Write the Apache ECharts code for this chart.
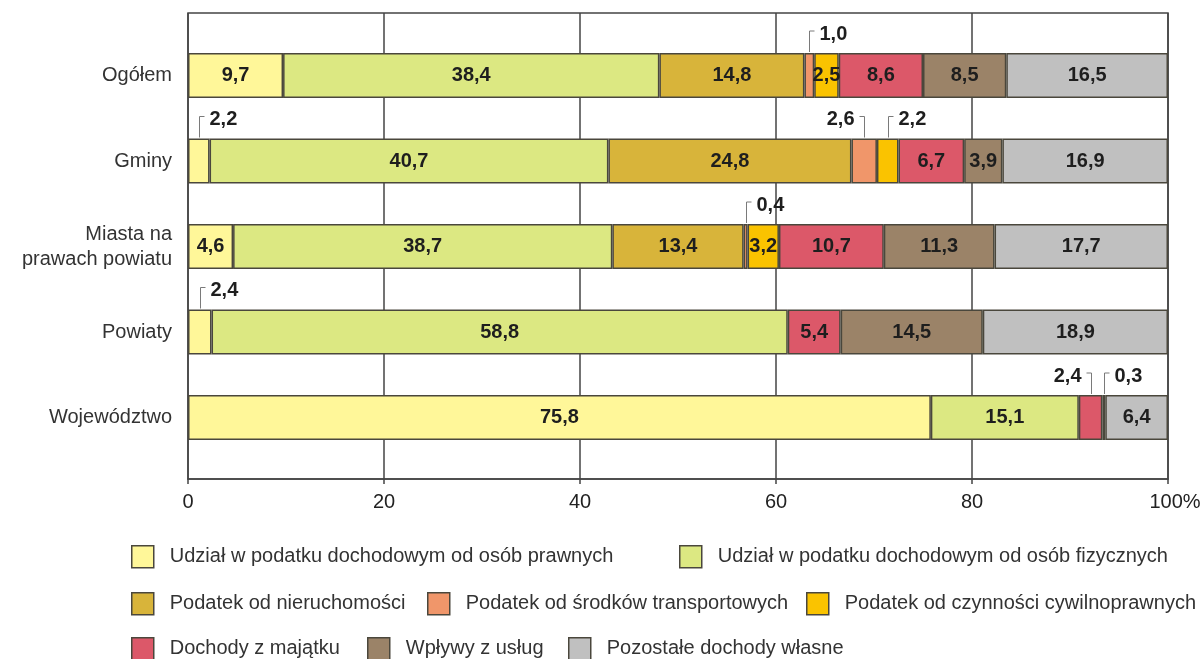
<!DOCTYPE html>
<html>
<head>
<meta charset="utf-8">
<script src="https://cdn.jsdelivr.net/npm/echarts@6/dist/echarts.min.js"></script>
<style>
  html, body { margin: 0; padding: 0; background: #ffffff; }
  #chart { width: 1204px; height: 659px; }
</style>
</head>
<body>
<div id="chart"></div>
<script>
// ---- Data ----
const categories = ['Ogółem', 'Gminy', 'Miasta na\nprawach powiatu', 'Powiaty', 'Województwo'];
const seriesNames = [
  'Udział w podatku dochodowym od osób prawnych',
  'Udział w podatku dochodowym od osób fizycznych',
  'Podatek od nieruchomości',
  'Podatek od środków transportowych',
  'Podatek od czynności cywilnoprawnych',
  'Dochody z majątku',
  'Wpływy z usług',
  'Pozostałe dochody własne'
];
const udzialPrawne          = [9.7, 2.2, 4.6, 2.4, 75.8];
const udzialFizyczne        = [38.4, 40.7, 38.7, 58.8, 15.1];
const nieruchomosci         = [14.8, 24.8, 13.4, null, null];
const srodkiTransportowe    = [1.0, 2.6, 0.4, null, null];
const czynnosciCywilnopr    = [2.5, 2.2, 3.2, null, null];
const dochodyMajatek        = [8.6, 6.7, 10.7, 5.4, 2.4];
const wplywyUslugi          = [8.5, 3.9, 11.3, 14.5, 0.3];
const pozostale             = [16.5, 16.9, 17.7, 18.9, 6.4];
const xTickValues           = [0, 20, 40, 60, 80, 100];

const seriesData = [udzialPrawne, udzialFizyczne, nieruchomosci, srodkiTransportowe,
                    czynnosciCywilnopr, dochodyMajatek, wplywyUslugi, pozostale];

// Labels drawn outside the bar with a leader bracket: [categoryIndex, seriesIndex, side]
const callouts = [
  [0, 3, 'right'],
  [1, 0, 'right'],
  [1, 3, 'left'],
  [1, 4, 'right'],
  [2, 3, 'right'],
  [3, 0, 'right'],
  [4, 5, 'left'],
  [4, 6, 'right']
];

// ---- Styles ----
const colors = ['#fff799', '#dce882', '#d8b43a', '#f0966a', '#fac300', '#dc5869', '#9b8368', '#c0c0c0'];
const FONT = '"Liberation Sans", Arial, Helvetica, sans-serif';
const BAR_H = 45;
const border = '#4a473c';
const fmt = v => Number(v).toFixed(1).replace('.', ',');
const calloutKey = new Set(callouts.map(c => c[0] + '_' + c[1]));

const chart = echarts.init(document.getElementById('chart'), null, { renderer: 'canvas' });

const barSeries = seriesNames.map((name, s) => ({
  name: name,
  type: 'bar',
  stack: 'total',
  xAxisIndex: 0,
  yAxisIndex: 0,
  barWidth: BAR_H,
  z: 3,
  data: seriesData[s],
  itemStyle: { color: colors[s], borderColor: border, borderWidth: 1.5 },
  label: {
    show: true,
    position: 'inside',
    fontFamily: FONT,
    fontSize: 20,
    fontWeight: 'bold',
    color: '#1e1e1e',
    formatter: p => (p.value == null || calloutKey.has(p.dataIndex + '_' + s)) ? '' : fmt(p.value)
  },
  emphasis: { disabled: true }
}));

const calloutData = callouts.map(([c, s, side]) => {
  let start = 0;
  for (let k = 0; k < s; k++) start += seriesData[k][c] || 0;
  const val = seriesData[s][c];
  return [start, c, start + val, side === 'right' ? 1 : -1, val];
});

const calloutSeries = {
  type: 'custom',
  xAxisIndex: 0,
  yAxisIndex: 0,
  z: 10,
  silent: true,
  clip: false,
  encode: { x: [0, 2], y: 1 },
  data: calloutData,
  renderItem: function (params, api) {
    const start = api.value(0), cat = api.value(1), end = api.value(2);
    const dir = api.value(3), val = api.value(4);
    const p = api.coord([(start + end) / 2, cat]);
    const x = Math.round(p[0]) + 0.5;
    const yTop = p[1] - BAR_H / 2 - 1;
    const yTip = yTop - 21;
    const hx = x + dir * 5;
    return {
      type: 'group',
      children: [
        {
          type: 'polyline',
          shape: { points: [[x, yTop], [x, yTip], [hx, yTip]] },
          style: { stroke: '#7a7a7a', lineWidth: 1, fill: null }
        },
        {
          type: 'text',
          style: {
            text: fmt(val),
            x: hx + dir * 5,
            y: yTip + 3,
            align: dir > 0 ? 'left' : 'right',
            verticalAlign: 'middle',
            font: 'bold 20px ' + FONT,
            fill: '#1e1e1e'
          }
        }
      ]
    };
  }
};

// Legend layout: one legend per item (icon left x, icon centre y)
const legendPos = [
  [131, 556], [679, 556],
  [131, 603], [427, 603], [806, 603],
  [131, 648], [367, 648], [568, 648]
];
const legends = seriesNames.map((name, i) => ({
  data: [name],
  left: legendPos[i][0],
  top: legendPos[i][1] - 11,
  padding: 0,
  itemWidth: 22,
  itemHeight: 22,
  icon: 'rect',
  selectedMode: false,
  itemStyle: { borderColor: border, borderWidth: 1.5 },
  textStyle: { fontFamily: FONT, fontSize: 20, color: '#333', lineHeight: 22, padding: [0, 0, 0, 11] }
}));

const option = {
  backgroundColor: '#ffffff',
  animation: false,
  legend: legends,
  grid: [
    { left: 188, right: 36, top: 32.75, bottom: 198.75, containLabel: false },
    { left: 188, right: 36, top: 13, bottom: 180, containLabel: false, show: true,
      borderColor: '#444', borderWidth: 1.5, backgroundColor: 'transparent' }
  ],
  xAxis: [
    { gridIndex: 0, type: 'value', min: 0, max: 100, show: false },
    {
      gridIndex: 1, type: 'value', min: xTickValues[0], max: xTickValues[xTickValues.length - 1], interval: 20,
      axisLine: { show: true, lineStyle: { color: '#444', width: 1.5 } },
      axisTick: { show: true, length: 5, lineStyle: { color: '#444', width: 1.5 } },
      splitLine: { show: true, lineStyle: { color: '#444', width: 1.5 } },
      axisLabel: {
        margin: 13,
        fontFamily: FONT, fontSize: 20, color: '#222',
        formatter: v => v === 100 ? '{p|100%}' : String(v),
        rich: { p: { fontFamily: FONT, fontSize: 20, color: '#222', padding: [0, 0, 0, 14] } }
      }
    }
  ],
  yAxis: [
    {
      gridIndex: 0, type: 'category', inverse: true, data: categories,
      axisLine: { show: false }, axisTick: { show: false }, splitLine: { show: false },
      axisLabel: { margin: 16, fontFamily: FONT, fontSize: 20, color: '#333', lineHeight: 25, align: 'right' }
    },
    { gridIndex: 1, type: 'value', min: 0, max: 1, show: false, splitLine: { show: false } }
  ],
  series: barSeries.concat([calloutSeries])
};

chart.setOption(option);
</script>
</body>
</html>
